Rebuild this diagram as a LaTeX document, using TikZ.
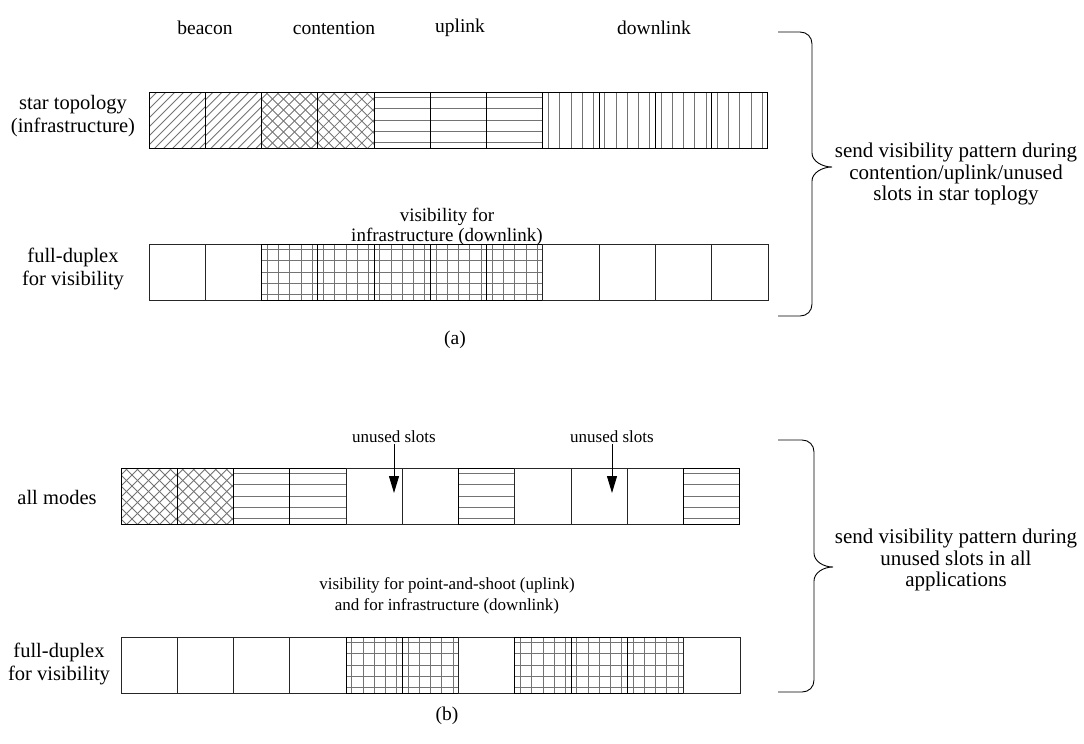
\documentclass[tikz,border=0pt]{standalone}
\usepackage{fontspec}
\setmainfont{Liberation Serif}
\usetikzlibrary{arrows.meta}
% curly brace opening to the right: x-start, x of spine, x of tip, top, tip, bottom
\newcommand\sidebrace[6]{%
  \draw[bracel] (#1,#4) -- (#2-12,#4) .. controls (#2-5,#4) and (#2,#4+5) .. (#2,#4+12)
    -- (#2,#5-14) .. controls (#2,#5-6) and (#3-10,#5) .. (#3,#5)
    .. controls (#3-10,#5) and (#2,#5+6) .. (#2,#5+14)
    -- (#2,#6-12) .. controls (#2,#6-5) and (#2-5,#6) .. (#2-12,#6) -- (#1,#6);}
\begin{document}
\begin{tikzpicture}[x=1pt,y=-1pt,
  every node/.style={inner sep=1pt},
  fnt/.style 2 args={font=\fontsize{#1}{#2}\selectfont},
  lbl/.style={align=center},
  head/.style={fnt={19.5}{22}},
  side/.style={lbl, fnt={20.5}{23}},
  note/.style={lbl, fnt={21}{21.5}},
  mid/.style={lbl, fnt={17}{21}},
  midtop/.style={lbl, fnt={19}{20}},
  small/.style={fnt={17}{19}},
  cell/.style={draw=black, line width=1pt, minimum width=56.27pt, minimum height=56pt,
    inner sep=0pt, outer sep=0pt, anchor=north west},
  patline/.style={draw=black!55, line width=0.8pt},
  bracel/.style={line width=0.9pt},
  arr/.style={line width=1pt, -{Triangle[length=17pt,width=10pt]}},
  pnone/.style={draw=black!85, line width=0.9pt},
  phl/.style={path picture={\foreach \k in {0,...,4}
      \draw[patline] (path picture bounding box.north west) ++(-2,5.6+11.2*\k) -- ++(64,0);}},
  pvl/.style={path picture={\foreach \k in {0,...,4}
      \draw[patline] (path picture bounding box.north west) ++(5.6+11.26*\k,-2) -- ++(0,64);}},
  pgrid/.style={path picture={\foreach \k in {0,...,4} {
      \draw[patline] (path picture bounding box.north west) ++(-2,5.6+11.2*\k) -- ++(64,0);
      \draw[patline] (path picture bounding box.north west) ++(5.6+11.26*\k,-2) -- ++(0,64);}}},
  pnel/.style={path picture={\foreach \k in {-8,...,7}
      \draw[patline] (path picture bounding box.north west) ++(9*\k,62) -- ++(66,-66);}},
  pcross/.style={path picture={\foreach \k in {-6,...,6} {
      \draw[patline] (path picture bounding box.north west) ++(11*\k,62) -- ++(66,-66);
      \draw[patline] (path picture bounding box.north west) ++(11*\k,-4) -- ++(66,66);}}},
]
\useasboundingbox (0,0) rectangle (1084,744);

% ---------------- (a) ----------------
\node[head] (hb) at (205,28) {beacon};
\node[head] (hc) at (334,28) {contention};
\node[head] (hu) at (460,28) {uplink};
\node[head] (hd) at (654,28) {downlink};

\node[side] (la1) at (73,116) {star topology\\(infrastructure)};
\foreach \t [count=\i from 0] in {pnel,pnel,pcross,pcross,phl,phl,phl,pvl,pvl,pvl,pvl}
  \node[cell,\t] (ta\i) at (149+56.27*\i,92) {};

\node[midtop] (va) at (447,227) {visibility for\\infrastructure (downlink)};

\node[side] (la2) at (73,269) {full-duplex\\for visibility};
\foreach \t [count=\i from 0] in {pnone,pnone,pgrid,pgrid,pgrid,pgrid,pgrid,pnone,pnone,pnone,pnone}
  \node[cell,\t] (fa\i) at (149+56.27*\i,244) {};

\node[head] (capa) at (455,340) {(a)};

\sidebrace{778}{812}{832}{32}{167}{316}
\node[note] (ra) at (956,174) {send visibility pattern during\\contention/uplink/unused\\slots in star toplogy};

% ---------------- (b) ----------------
\node[small] (u1) at (394,437) {unused slots};
\node[small] (u2) at (612,437) {unused slots};

\node[side] (lb1) at (57,497) {all modes};
\foreach \t [count=\i from 0] in {pcross,pcross,phl,phl,pnone,pnone,phl,pnone,pnone,pnone,phl}
  \node[cell,\t] (tb\i) at (121+56.27*\i,468) {};

\coordinate (u1t) at (394,493);
\coordinate (u2t) at (612,493);
\draw[arr] (u1) -- (u1t);
\draw[arr] (u2) -- (u2t);

\node[mid] (vb) at (447,596) {visibility for point-and-shoot (uplink)\\and for infrastructure (downlink)};

\node[side] (lb2) at (59,664) {full-duplex\\for visibility};
\foreach \t [count=\i from 0] in {pnone,pnone,pnone,pnone,pgrid,pgrid,pnone,pgrid,pgrid,pgrid,pnone}
  \node[cell,\t] (fb\i) at (121+56.27*\i,637) {};

\node[head] (capb) at (447,716) {(b)};

\sidebrace{778}{814}{833}{440}{567}{692}
\node[note] (rb) at (956,560) {send visibility pattern during\\unused slots in all\\applications};
\end{tikzpicture}
\end{document}
